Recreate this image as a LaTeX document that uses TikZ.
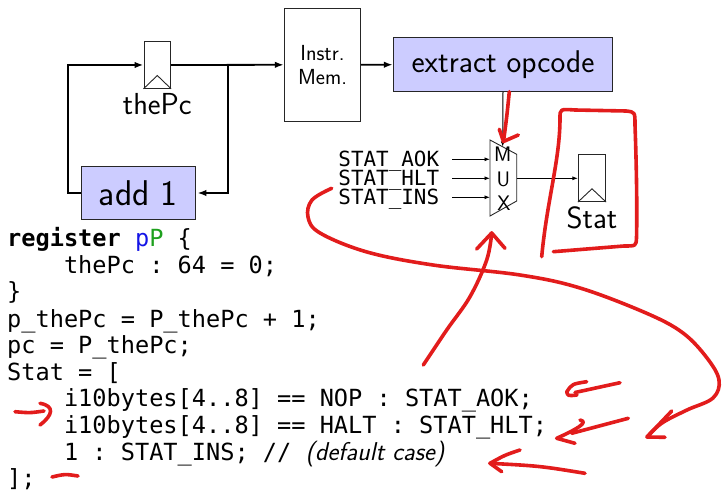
\documentclass[tikz,border=0pt]{standalone}
\usepackage{fontspec}
\setmonofont{DejaVu Sans Mono}
\usetikzlibrary{arrows.meta}

\definecolor{boxblue}{RGB}{204,204,255}
\definecolor{inkred}{RGB}{226,28,28}
\definecolor{kwblue}{RGB}{20,20,230}
\definecolor{kwgreen}{RGB}{30,160,30}

\newcommand\sz[2]{\fontsize{#1pt}{#2pt}\selectfont}
\newcommand\codefont{\ttfamily\sz{23.6}{26.7}}

\tikzset{
  unit/.style={draw=black!85, line width=0.9pt, fill=boxblue, inner sep=0pt},
  plainbox/.style={draw=black!85, line width=0.9pt, inner sep=0pt, align=center},
  reg/.style={draw=black!85, line width=0.9pt, minimum width=26.7pt,
    minimum height=46.7pt, inner sep=0pt},
  wire/.style={line width=1.8pt, -{Latex[length=9pt,width=6.5pt]}},
  thinwire/.style={line width=0.8pt, -{Latex[length=5.5pt,width=4pt]}},
  statlbl/.style={anchor=east, font=\ttfamily\sz{20.9}{19}, inner xsep=13pt,
    inner ysep=0pt, text height=15pt, text depth=0pt},
  codeline/.style={anchor=base west, inner sep=0pt, font=\codefont},
  ink/.style={draw=inkred, line width=3.6pt, line cap=round, line join=round},
}

\begin{document}
\begin{tikzpicture}[x=1pt, y=-1pt]
\useasboundingbox (0,0) rectangle (724,492);

% --- PC register and increment loop ---
\node[reg] (pcreg) at (157.3,65) {};
\draw[line width=0.9pt, draw=black!85] (pcreg.south west) -- ([yshift=13.3pt]pcreg.south) -- (pcreg.south east);
\node[anchor=base, inner sep=0pt, font=\sffamily\sz{30.4}{34}] (pclabel) at (157.3,115) {thePc};

\node[unit, minimum width=113.3pt, minimum height=52.6pt, font=\sffamily\sz{35.8}{40}] (add) at (138.3,193) {add 1};

\node[plainbox, minimum width=76.4pt, minimum height=113pt, font=\sffamily\sz{21.8}{24}] (imem) at (322.5,64.8) {Instr.\\Mem.};

\node[unit, minimum width=219.4pt, minimum height=54pt, font=\sffamily\sz{31.4}{36}] (opc) at (503,64.7) {extract opcode};

\coordinate (split) at (227.7,65);
\draw[wire] (add.west) -- ++(-13.4,0) |- (pcreg.west);
\draw[wire] (pcreg.east) -- (imem.west);
\draw[wire, shorten >=2pt] (split) |- (add.east);
\draw[wire] (imem.east) -- (opc.west);

% --- status multiplexer ---
\coordinate (muxtl) at (490,140);
\coordinate (muxtr) at (516.7,154.3);
\coordinate (muxbr) at (516.7,201);
\coordinate (muxbl) at (490,216);
\draw[line width=0.9pt, draw=black!85] (muxtl) -- (muxtr) -- (muxbr) -- (muxbl) -- cycle;
\node[anchor=base, inner sep=0pt, font=\sffamily\sz{21}{21}] (muxM) at (502.7,161.7) {M};
\node[anchor=base, inner sep=0pt, font=\sffamily\sz{21}{21}] (muxU) at (503.3,186.7) {U};
\node[anchor=base, inner sep=0pt, font=\sffamily\sz{21}{21}] (muxX) at (504,210.7) {X};

\coordinate (muxin1) at (490,159.3);
\coordinate (muxin2) at (490,178.3);
\coordinate (muxin3) at (490,197.3);
\coordinate (muxout) at (516.7,178.3);
\coordinate (muxsel) at (502.7,146.8);

\node[statlbl] (aok) at (452.3,159.3) {STAT\_AOK};
\node[statlbl] (hlt) at (452.3,178.3) {STAT\_HLT};
\node[statlbl] (ins) at (452.3,197.3) {STAT\_INS};
\draw[thinwire] (aok) -- (muxin1);
\draw[thinwire] (hlt) -- (muxin2);
\draw[thinwire] (ins) -- (muxin3);
\draw[line width=1pt, -{Latex[length=5.5pt,width=4pt]}] (opc.south) -- (muxsel);

% --- Stat register ---
\node[reg, minimum width=27.4pt] (statreg) at (592,178.3) {};
\draw[line width=0.9pt, draw=black!85] (statreg.south west) -- ([yshift=13.3pt]statreg.south) -- (statreg.south east);
\node[anchor=base, inner sep=0pt, font=\sffamily\sz{30.7}{34}] (statlabel) at (592,229) {Stat};
\draw[thinwire] (muxout) -- (statreg.west);

% --- HCL source ---
\node[codeline] (c1) at (7,246.7) {\textbf{register} \textcolor{kwblue}{p}\textcolor{kwgreen}{P} \{};
\node[codeline] (c2) at (7,273.3) {\hphantom{0000}thePc : 64 = 0;};
\node[codeline] (c3) at (7,300) {\}};
\node[codeline] (c4) at (7,327.3) {p\_thePc = P\_thePc + 1;};
\node[codeline] (c5) at (7,353.3) {pc = P\_thePc;};
\node[codeline] (c6) at (7,380) {Stat = [};
\node[codeline] (c7) at (7,406.7) {\hphantom{0000}i10bytes[4..8] == NOP : STAT\_AOK;};
\node[codeline] (c8) at (7,433.3) {\hphantom{0000}i10bytes[4..8] == HALT : STAT\_HLT;};
\node[codeline] (c9) at (7,460) {\hphantom{0000}1 : STAT\_INS; // {\sffamily\itshape\sz{25.8}{26.7}(default case)}};
\node[codeline] (c10) at (7,486.7) {];};

% --- red pen annotations ---
% opcode into mux select
\draw[ink] (509.3,91.7) .. controls (507,115) .. (503.5,141.5);
\draw[ink] (499.3,129.3) -- (503.5,141.5) -- (518.3,135);
% loop around Stat
\draw[ink] (541.7,256.7) .. controls (547,200) and (560,160) .. (560,118)
  .. controls (560,109) .. (575,110) -- (626,111)
  .. controls (635,112) .. (635,125) .. controls (637,180) and (637,220) .. (636.5,238)
  .. controls (636,246) .. (624,246) -- (553.3,251.7);
% long curve from STAT_INS to the HLT line
\draw[ink] plot[smooth, tension=0.6] coordinates {(331.7,188.3) (312,200) (308,217) (320,233)
  (367,252) (433,265) (520,275) (580,288) (646.7,313.3) (683,333) (707,358) (719,380)
  (713,398) (687,410) (662,423) (647,437)};
\draw[ink] (671.7,411) -- (647,437) -- (665,437.3);
% arrow up into mux
\draw[ink] plot[smooth, tension=0.6] coordinates {(423.3,365) (446.7,330) (470,296.7) (486.7,260) (491.7,233)};
\draw[ink] (476.7,249) -- (491.7,233) -- (505,248.3);
% small arrows at the cases
\draw[ink] (620,382.7) -- (575,392.5);
\draw[ink] (586.7,381.7) .. controls (572,384) .. (566.7,392) .. controls (568,396) .. (577,395);
\draw[ink] (628.3,418.3) -- (571.7,433.3);
\draw[ink] (580,420) .. controls (590,422) and (575,430) .. (556.7,438.3) -- (575,443.3);
\draw[ink] (585,473.3) .. controls (540,466) .. (490,463.3);
\draw[ink] (520,450) .. controls (505,455) .. (490,463.3) .. controls (495,468) .. (501.7,471.7);
% marks at the left of the source
\draw[ink] (15,411.7) .. controls (30,413) .. (44,411);
\draw[ink] (40,403.3) .. controls (55,406) and (53,415) .. (40,425);
\draw[ink] (52,477) .. controls (65,474) .. (78,476);
\end{tikzpicture}
\end{document}
